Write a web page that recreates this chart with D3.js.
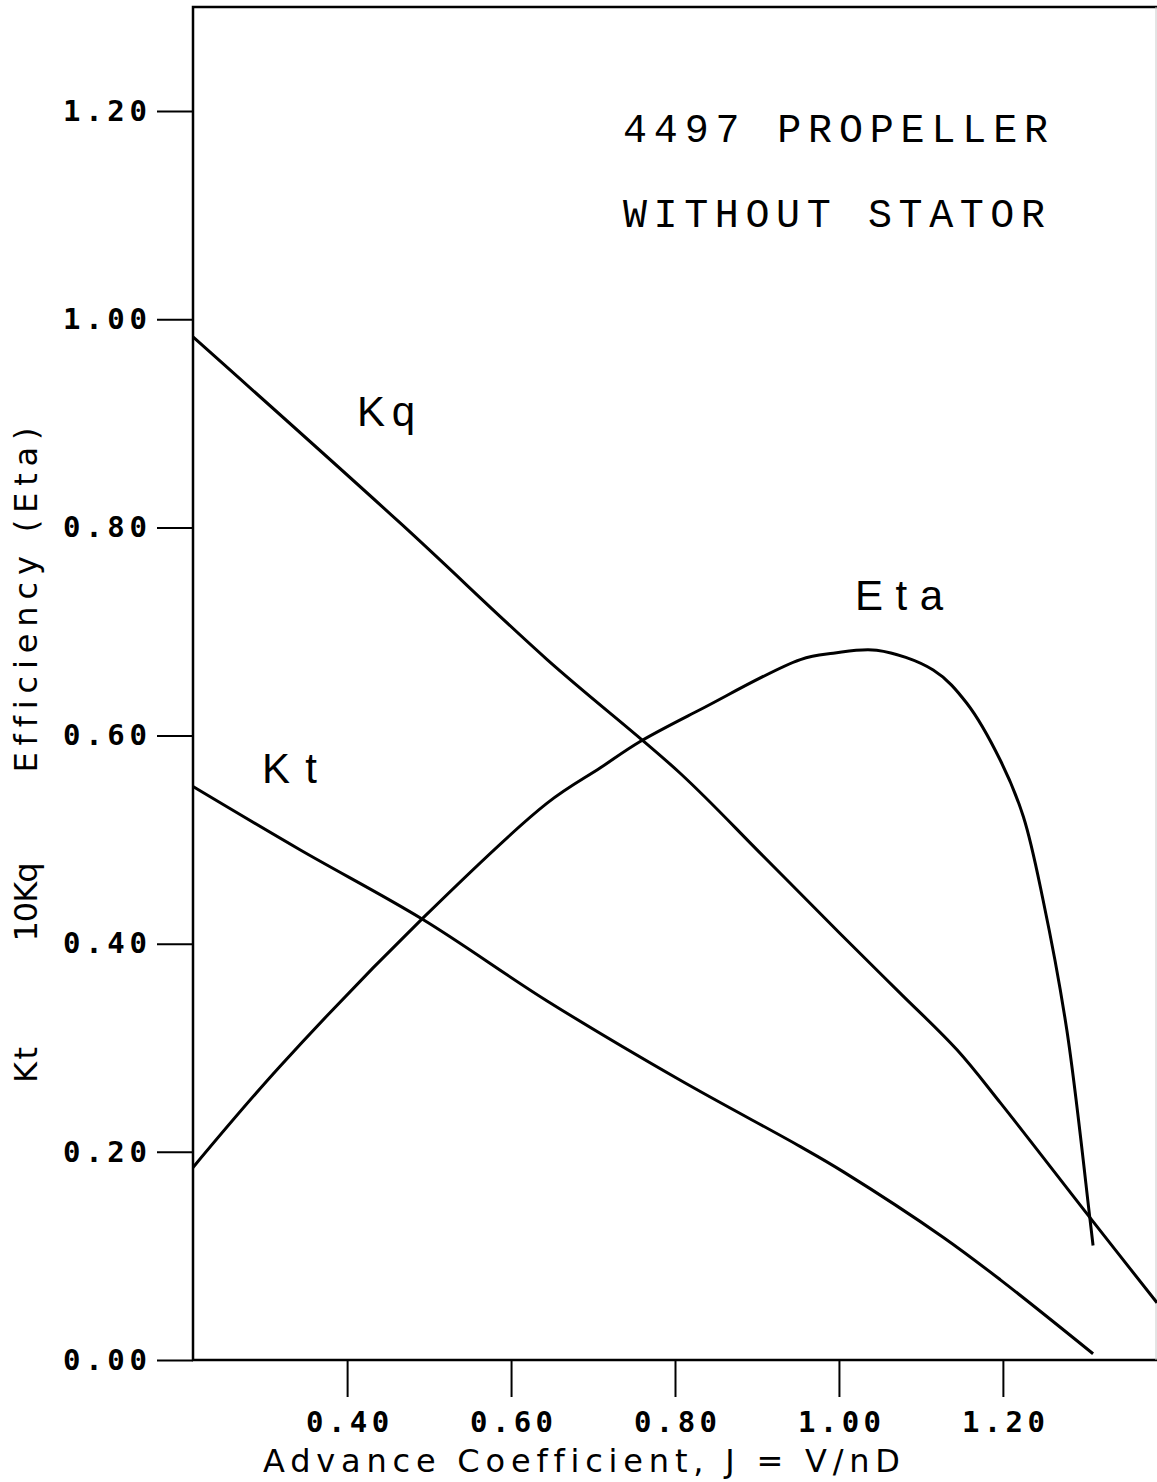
<!DOCTYPE html>
<html>
<head>
<meta charset="utf-8">
<script src="https://cdn.jsdelivr.net/npm/d3@7"></script>
<style>
  body { margin: 0; background: #fff; }
  svg { display: block; }
  text { font-variant-ligatures: none; }
  .curve { fill: none; stroke: #000; stroke-width: 3; stroke-linejoin: round; }
  .frame { fill: none; stroke: #000; stroke-width: 2.5; }
  .tick line { stroke: #000; stroke-width: 2; }
  .tick text { font-family: 'DejaVu Sans Mono', monospace; font-size: 29px; font-weight: bold; fill: #000; }
  .lbl { font-family: 'Liberation Sans', 'DejaVu Sans', sans-serif; fill: #000; }
  .title { font-family: 'Liberation Mono', monospace; font-size: 40px; fill: #000; }
  .axis-title { font-family: 'DejaVu Sans', sans-serif; font-size: 32px; fill: #000; }
</style>
</head>
<body>
<script>
// values: advance coefficient J and value
const kq = [
  { j: 0.212, v: 0.983 }, { j: 0.465, v: 0.804 }, { j: 0.644, v: 0.673 },
  { j: 0.806, v: 0.564 }, { j: 0.904, v: 0.487 }, { j: 1.001, v: 0.410 },
  { j: 1.074, v: 0.353 }, { j: 1.144, v: 0.298 }, { j: 1.197, v: 0.247 },
  { j: 1.306, v: 0.137 }, { j: 1.388, v: 0.055 },
];
const kt = [
  { j: 0.212, v: 0.551 }, { j: 0.343, v: 0.490 }, { j: 0.493, v: 0.423 },
  { j: 0.644, v: 0.345 }, { j: 0.806, v: 0.269 }, { j: 0.953, v: 0.205 },
  { j: 1.005, v: 0.181 }, { j: 1.127, v: 0.118 }, { j: 1.197, v: 0.077 },
  { j: 1.310, v: 0.006 },
];
const eta = [
  { j: 0.212, v: 0.185 }, { j: 0.318, v: 0.282 }, { j: 0.493, v: 0.425 },
  { j: 0.644, v: 0.535 }, { j: 0.709, v: 0.569 }, { j: 0.757, v: 0.594 },
  { j: 0.831, v: 0.625 }, { j: 0.953, v: 0.673 }, { j: 0.993, v: 0.679 },
  { j: 1.046, v: 0.682 }, { j: 1.115, v: 0.663 }, { j: 1.156, v: 0.631 },
  { j: 1.197, v: 0.576 }, { j: 1.225, v: 0.522 }, { j: 1.249, v: 0.442 },
  { j: 1.278, v: 0.317 }, { j: 1.306, v: 0.137 }, { j: 1.310, v: 0.110 },
];
const xTicks = [0.40, 0.60, 0.80, 1.00, 1.20];
const yTicks = [0.00, 0.20, 0.40, 0.60, 0.80, 1.00, 1.20];
const titleLines = ['4497 PROPELLER', 'WITHOUT STATOR'];

const W = 1157;
const H = 1482;
const plot = { left: 193, right: 1157, top: 7, bottom: 1360 };

const xScale = d3.scaleLinear()
  .domain([0.212, 1.388])
  .range([plot.left, plot.right]);

const yScale = d3.scaleLinear()
  .domain([0, 1.30])
  .range([plot.bottom, plot.top]);

const line = d3.line()
  .x(d => xScale(d.j))
  .y(d => yScale(d.v))
  .curve(d3.curveCatmullRom.alpha(0.5));

const svg = d3.select('body')
  .append('svg')
  .attr('width', W)
  .attr('height', H);

// frame: left, top, bottom; right edge only faint
svg.append('path')
  .attr('class', 'frame')
  .attr('d', `M${plot.right},${plot.top}H${plot.left}V${plot.bottom}H${plot.right}`);
svg.append('line')
  .attr('x1', plot.right - 1).attr('x2', plot.right - 1)
  .attr('y1', plot.top).attr('y2', plot.bottom)
  .style('stroke', '#c8c8c8')
  .style('stroke-width', 1);

const yAxis = d3.axisLeft(yScale)
  .tickValues(yTicks)
  .tickFormat(d3.format('.2f'))
  .tickSize(36)
  .tickPadding(10);

const xAxis = d3.axisBottom(xScale)
  .tickValues(xTicks)
  .tickFormat(d3.format('.2f'))
  .tickSize(37)
  .tickPadding(14);

svg.append('g')
  .attr('transform', `translate(${plot.left},0)`)
  .call(yAxis)
  .call(g => g.select('.domain').remove())
  .call(g => g.selectAll('text').attr('textLength', 84));

svg.append('g')
  .attr('transform', `translate(0,${plot.bottom})`)
  .call(xAxis)
  .call(g => g.select('.domain').remove())
  .call(g => g.selectAll('text').attr('textLength', 83));

svg.selectAll('.tick text').attr('font-family', null).attr('font-size', null);

[kq, kt, eta].forEach(series => {
  svg.append('path')
    .attr('class', 'curve')
    .attr('d', line(series));
});

// curve labels
svg.append('text').attr('class', 'lbl').attr('x', 357).attr('y', 426)
  .attr('font-size', 42).attr('textLength', 58).text('Kq');
svg.append('text').attr('class', 'lbl').attr('x', 262).attr('y', 783)
  .attr('font-size', 42).attr('textLength', 55).text('Kt');
svg.append('text').attr('class', 'lbl').attr('x', 855).attr('y', 610)
  .attr('font-size', 42).attr('textLength', 88).text('Eta');

// title
svg.selectAll('.title')
  .data(titleLines)
  .join('text')
  .attr('class', 'title')
  .attr('x', 623)
  .attr('y', (d, i) => 142 + i * 85)
  .attr('textLength', (d, i) => (i === 0 ? 425 : 422))
  .text(d => d);

// axis titles
svg.append('text')
  .attr('class', 'axis-title')
  .attr('x', 263)
  .attr('y', 1472)
  .attr('textLength', 637)
  .text('Advance Coefficient, J = V/nD');

const yLabels = [
  { text: 'Kt', c: 1065, len: 36 },
  { text: '10Kq', c: 902, len: 79 },
  { text: 'Efficiency (Eta)', c: 600, len: 345 },
];
svg.selectAll('.ylab')
  .data(yLabels)
  .join('text')
  .attr('class', 'axis-title ylab')
  .attr('transform', d => `translate(37,${d.c}) rotate(-90)`)
  .attr('text-anchor', 'middle')
  .attr('textLength', d => d.len)
  .text(d => d.text);
</script>
</body>
</html>
